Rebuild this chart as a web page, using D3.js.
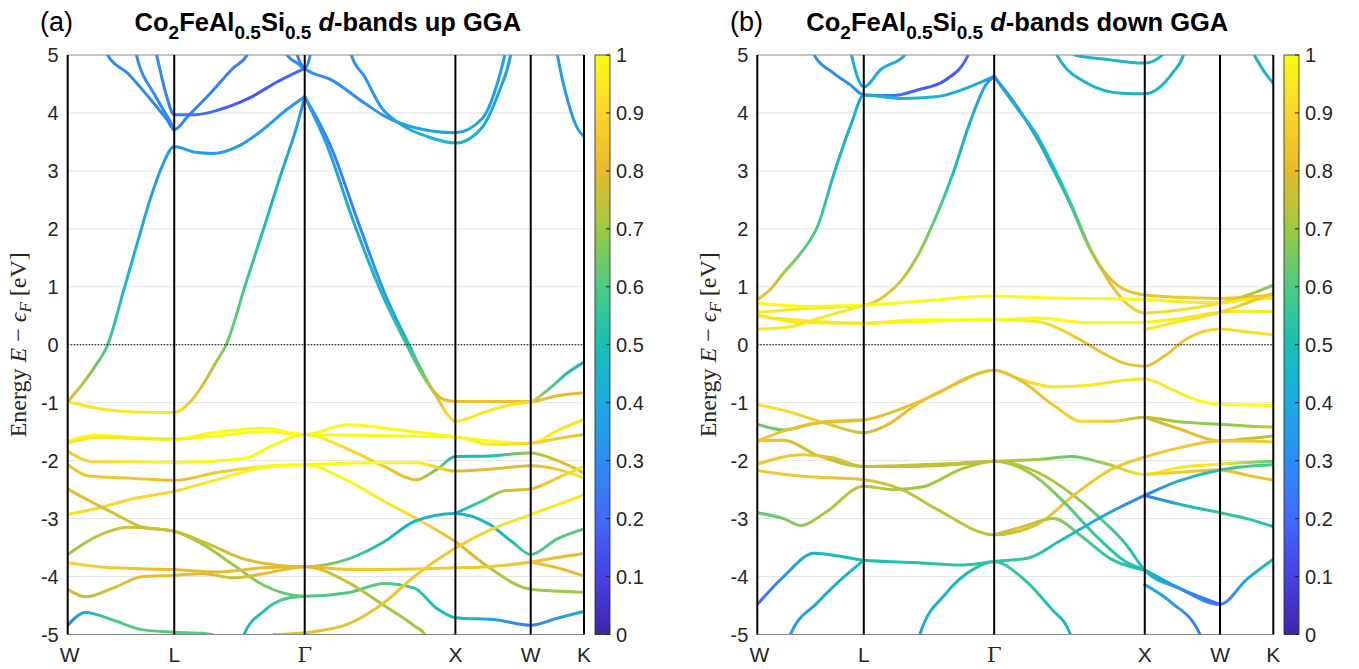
<!DOCTYPE html>
<html>
<head>
<meta charset="utf-8">
<script src="https://cdn.jsdelivr.net/npm/d3@7"></script>
<style>
  body { margin: 0; background: #fff; }
  text { font-family: "Liberation Sans", Arial, sans-serif; }
</style>
</head>
<body>
<div id="chart"></div>
<script>
// k-path positions (units of 2pi/a) and labels
const kTicks = [0, 0.7071, 1.5731, 2.5731, 3.0731, 3.4267];
const kLabels = ["W", "L", "Γ", "X", "W", "K"];
const energyTicks = [-5, -4, -3, -2, -1, 0, 1, 2, 3, 4, 5];
const weightTicks = [0, 0.1, 0.2, 0.3, 0.4, 0.5, 0.6, 0.7, 0.8, 0.9, 1];

// parula colormap samples
const parulaStops = [
  [0.2422, 0.1504, 0.6603], [0.2783, 0.2559, 0.8991], [0.2602, 0.4123, 0.9952],
  [0.1764, 0.5499, 0.9520], [0.1113, 0.6635, 0.8763], [0.0964, 0.7500, 0.7120],
  [0.2906, 0.7973, 0.5188], [0.6174, 0.7876, 0.2612], [0.9035, 0.7330, 0.1774],
  [0.9786, 0.8386, 0.1766], [0.9769, 0.9839, 0.0805]
];

// bands: [k, E - Ef (eV), d-weight]
const bandsUp = [
  [[0,-0.98,.95],[0.2,-1.10,.95],[0.45,-1.16,.95],[0.707,-1.17,.95],[0.80,-1.02,.85],[0.89,-0.72,.8],[0.98,-0.32,.72],[1.052,0,.65],[1.187,1.1,.58],[1.30,2.0,.5],[1.41,2.9,.42],[1.524,3.8,.36],[1.573,4.28,.33]],
  [[0,-0.98,.82],[0.085,-0.72,.75],[0.175,-0.40,.65],[0.265,0,.58],[0.378,1.0,.48],[0.467,1.8,.42],[0.546,2.5,.38],[0.625,3.07,.36],[0.707,3.42,.35],[0.85,3.32,.36],[0.96,3.30,.36],[1.15,3.45,.36],[1.30,3.72,.35],[1.45,4.05,.34],[1.573,4.28,.33]],
  [[0.24,5.3,.3],[0.265,5.0,.3],[0.40,4.68,.3],[0.535,4.28,.3],[0.66,3.88,.28],[0.707,3.71,.28],[0.80,3.95,.27],[0.95,4.35,.27],[1.10,4.78,.27],[1.19,5.0,.27],[1.22,5.3,.27]],
  [[0.43,5.3,.3],[0.456,5.0,.3],[0.58,4.3,.3],[0.68,3.85,.3],[0.707,3.71,.3]],
  [[0.56,5.3,.3],[0.59,5.0,.3],[0.65,4.35,.28],[0.707,3.97,.25],[0.85,3.97,.22],[1.0,4.05,.2],[1.2,4.25,.15],[1.4,4.55,.18],[1.573,4.77,.22]],
  [[1.44,5.3,.3],[1.456,5.0,.3],[1.53,4.85,.3],[1.573,4.77,.28],[1.61,5.0,.3],[1.63,5.3,.3]],
  [[1.51,5.3,.25],[1.524,5.0,.25],[1.573,4.77,.3],[1.75,4.57,.3],[1.97,4.17,.32],[2.1,3.95,.35],[2.3,3.75,.38],[2.573,3.66,.38],[2.75,3.9,.37],[2.85,4.5,.36],[2.9,5.0,.36],[2.92,5.3,.36]],
  [[1.86,5.3,.32],[1.883,5.0,.32],[1.97,4.63,.33],[2.08,4.1,.35],[2.2,3.82,.4],[2.4,3.58,.45],[2.573,3.48,.48],[2.75,3.75,.42],[2.86,4.35,.38],[2.94,5.0,.36],[2.96,5.3,.36]],
  [[3.23,5.3,.35],[3.25,5.0,.35],[3.32,4.2,.35],[3.38,3.75,.35],[3.427,3.59,.35]],
  [[1.573,4.28,.3],[1.75,3.4,.25],[1.93,2.1,.27],[2.11,0.85,.35],[2.265,0,.45],[2.35,-0.45,.6],[2.43,-0.8,.75],[2.50,-0.95,.8],[2.573,-0.98,.82],[2.82,-0.98,.82],[3.073,-0.98,.82],[3.25,-0.88,.8],[3.427,-0.83,.8]],
  [[1.573,4.28,.35],[1.72,3.45,.38],[1.90,2.1,.42],[2.09,0.85,.48],[2.25,0,.55],[2.35,-0.5,.65],[2.45,-0.9,.8],[2.52,-1.2,.9],[2.573,-1.32,.95],[2.78,-1.15,.95],[2.95,-1.03,.95],[3.073,-0.98,.9],[3.2,-0.75,.6],[3.31,-0.5,.5],[3.427,-0.30,.45]],
  [[0,-1.67,1],[0.175,-1.56,1],[0.45,-1.6,1],[0.707,-1.63,1],[0.96,-1.52,1],[1.30,-1.44,1],[1.573,-1.55,1],[1.86,-1.38,1],[2.2,-1.47,1],[2.573,-1.59,1],[2.8,-1.66,1],[3.073,-1.70,1],[3.25,-1.48,.95],[3.427,-1.29,.95]],
  [[0,-1.69,.95],[0.2,-1.6,.95],[0.45,-1.62,.95],[0.707,-1.63,.95],[0.96,-1.58,1],[1.3,-1.5,1],[1.573,-1.55,1],[1.9,-1.56,1],[2.3,-1.58,1],[2.573,-1.59,1],[2.8,-1.72,.95],[3.073,-1.70,.9],[3.25,-1.62,.85],[3.427,-1.55,.82]],
  [[0,-1.84,.85],[0.175,-2.02,.9],[0.40,-2.02,.95],[0.707,-2.03,1],[0.96,-2.01,1],[1.19,-1.95,1],[1.35,-1.75,1],[1.573,-1.55,1],[1.86,-1.8,.9],[2.1,-2.1,.85],[2.31,-2.33,.8],[2.45,-2.15,.65],[2.573,-1.93,.45],[2.8,-1.92,.5],[3.073,-1.87,.7],[3.25,-2.0,.8],[3.427,-2.21,.8]],
  [[0,-2.07,.85],[0.15,-2.27,.85],[0.4,-2.3,.85],[0.707,-2.34,.8],[1.0,-2.2,.85],[1.3,-2.1,.95],[1.573,-2.07,1],[1.9,-2.04,1],[2.3,-2.03,1],[2.573,-2.18,.8],[2.8,-2.15,.8],[3.073,-2.09,.8],[3.25,-2.15,.85],[3.427,-2.30,.95]],
  [[0,-2.93,.95],[0.2,-2.82,.9],[0.45,-2.65,.9],[0.707,-2.53,.9],[0.96,-2.35,.95],[1.3,-2.12,1],[1.573,-2.07,1],[1.86,-2.35,1],[2.1,-2.7,.95],[2.35,-3.05,.9],[2.573,-3.4,.8],[2.8,-3.85,.75],[3.073,-4.22,.7],[3.427,-4.27,.7]],
  [[0,-2.49,.8],[0.15,-2.70,.8],[0.3,-2.9,.78],[0.5,-3.15,.75],[0.707,-3.22,.75],[0.9,-3.45,.72],[1.1,-3.8,.7],[1.3,-4.15,.65],[1.573,-4.34,.6],[1.86,-4.28,.6],[2.1,-4.12,.62],[2.3,-4.2,.55],[2.45,-4.55,.5],[2.573,-4.71,.48],[2.85,-4.75,.35],[3.073,-4.84,.25],[3.25,-4.72,.35],[3.427,-4.60,.45]],
  [[0,-3.62,.7],[0.2,-3.30,.75],[0.4,-3.15,.78],[0.707,-3.22,.75],[0.9,-3.4,.75],[1.2,-3.72,.78],[1.573,-3.83,.8],[1.86,-3.7,.6],[2.1,-3.4,.5],[2.3,-3.05,.45],[2.573,-2.91,.45],[2.8,-3.1,.45],[2.95,-3.4,.5],[3.073,-3.62,.6],[3.25,-3.35,.6],[3.427,-3.18,.62]],
  [[2.573,-2.91,.45],[2.75,-2.7,.6],[2.9,-2.52,.75],[3.073,-2.49,.8],[3.25,-2.3,.85],[3.427,-2.10,.95]],
  [[0,-3.76,.9],[0.3,-3.85,.85],[0.707,-3.88,.8],[1.0,-3.92,.8],[1.3,-3.85,.8],[1.573,-3.83,.8],[1.9,-3.88,.85],[2.3,-3.87,.85],[2.573,-3.85,.85],[2.8,-3.83,.85],[3.073,-3.75,.85],[3.25,-3.67,.8],[3.427,-3.60,.8]],
  [[0,-4.22,.8],[0.12,-4.35,.72],[0.3,-4.2,.78],[0.5,-4.0,.8],[0.707,-3.98,.8],[0.9,-3.95,.8],[1.1,-4.02,.75],[1.3,-3.95,.8],[1.573,-3.83,.8],[1.86,-4.1,.75],[2.1,-4.5,.7],[2.3,-4.85,.7],[2.37,-5.0,.7],[2.42,-5.3,.7]],
  [[0,-4.84,.25],[0.12,-4.62,.45],[0.3,-4.75,.6],[0.5,-4.92,.62],[0.707,-4.96,.62],[0.9,-4.98,.62],[0.98,-5.02,.62],[1.05,-5.3,.6]],
  [[1.14,-5.3,.45],[1.17,-5.0,.45],[1.3,-4.6,.52],[1.45,-4.38,.6],[1.573,-4.34,.62]],
  [[1.37,-5.0,.8],[1.573,-4.97,.82],[1.86,-4.82,.82],[2.1,-4.45,.82],[2.3,-4.0,.85],[2.573,-3.51,.85],[2.8,-3.2,.9],[3.073,-2.93,.95],[3.427,-2.59,.95]],
  [[3.073,-3.75,.85],[3.25,-3.85,.8],[3.427,-3.99,.8]]
];

const bandsDown = [
  [[0.34,5.3,.3],[0.378,5.0,.3],[0.50,4.7,.3],[0.62,4.48,.3],[0.707,4.31,.28],[0.9,4.3,.22],[1.07,4.4,.18],[1.25,4.57,.15],[1.40,5.0,.2],[1.43,5.3,.2]],
  [[0.6,5.3,.4],[0.625,5.0,.4],[0.707,4.45,.42],[0.82,4.75,.42],[0.98,5.0,.4],[1.0,5.3,.4]],
  [[0,0.78,.85],[0.085,0.95,.8],[0.175,1.24,.72],[0.288,1.58,.62],[0.40,2.04,.58],[0.51,2.96,.48],[0.625,3.82,.42],[0.707,4.31,.4],[0.96,4.25,.45],[1.19,4.28,.45],[1.41,4.45,.42],[1.573,4.63,.38]],
  [[0,0.56,.95],[0.3,0.62,.95],[0.707,0.68,.9],[0.85,0.85,.82],[0.96,1.12,.78],[1.074,1.58,.7],[1.187,2.21,.62],[1.30,2.96,.5],[1.41,3.82,.42],[1.524,4.51,.35],[1.573,4.63,.33]],
  [[1.573,4.63,.3],[1.70,4.2,.25],[1.86,3.55,.3],[1.97,3.0,.42],[2.085,2.39,.55],[2.2,1.70,.68],[2.31,1.24,.78],[2.42,0.98,.82],[2.573,0.86,.82],[2.8,0.82,.85],[3.073,0.80,.85],[3.25,0.82,.85],[3.427,0.86,.85]],
  [[1.573,4.63,.35],[1.72,4.1,.45],[1.86,3.6,.48],[1.97,3.05,.5],[2.085,2.42,.55],[2.2,1.72,.68],[2.31,1.2,.78],[2.42,0.8,.85],[2.573,0.55,.9],[2.8,0.6,.92],[3.073,0.72,.92],[3.25,0.85,.75],[3.427,1.03,.65]],
  [[1.95,5.3,.45],[1.99,5.0,.45],[2.2,4.5,.45],[2.42,4.34,.45],[2.573,4.33,.45],[2.76,4.7,.45],[2.83,5.0,.45],[2.86,5.3,.45]],
  [[2.05,5.3,.45],[2.11,5.0,.45],[2.3,4.93,.45],[2.573,4.86,.45],[2.69,5.0,.45],[2.72,5.3,.45]],
  [[3.24,5.3,.45],[3.30,5.0,.45],[3.37,4.7,.45],[3.427,4.51,.45]],
  [[0,0.72,1],[0.35,0.66,1],[0.707,0.68,1],[1.07,0.75,1],[1.573,0.84,1],[1.9,0.81,1],[2.573,0.78,1],[2.8,0.74,.95],[3.073,0.72,.95],[3.25,0.78,.95],[3.427,0.80,.95]],
  [[0,0.27,.95],[0.2,0.3,.95],[0.4,0.45,.95],[0.707,0.68,.95]],
  [[0,0.49,.95],[0.3,0.42,.95],[0.707,0.37,.95],[1.07,0.43,1],[1.573,0.43,1],[1.86,0.46,1],[2.2,0.38,1],[2.573,0.39,1],[2.8,0.45,.95],[3.073,0.56,.95],[3.25,0.58,.95],[3.427,0.57,.95]],
  [[0,0.52,.95],[0.3,0.38,.95],[0.707,0.37,.95],[1.07,0.40,1],[1.573,0.43,1],[1.86,0.40,.95],[2.1,0.15,.85],[2.3,-0.15,.82],[2.45,-0.33,.82],[2.573,-0.37,.82],[2.7,-0.2,.82],[2.85,0.1,.85],[3.073,0.27,.9],[3.25,0.22,.92],[3.427,0.17,.92]],
  [[2.573,0.26,.95],[2.8,0.4,.95],[3.073,0.56,.9],[3.25,0.72,.85],[3.427,0.89,.85]],
  [[0,-1.03,.95],[0.2,-1.15,.9],[0.45,-1.35,.85],[0.707,-1.52,.75],[0.85,-1.40,.8],[1.074,-1.0,.82],[1.3,-0.7,.85],[1.573,-0.44,.85],[1.75,-0.6,.9],[1.97,-0.73,.95],[2.2,-0.70,.95],[2.42,-0.62,.95],[2.573,-0.59,.95],[2.76,-0.78,.95],[2.95,-0.98,1],[3.073,-1.03,1],[3.25,-1.04,1],[3.427,-1.05,1]],
  [[0,-1.37,.62],[0.175,-1.47,.65],[0.40,-1.35,.8],[0.707,-1.30,.82],[0.96,-1.1,.82],[1.19,-0.85,.82],[1.41,-0.55,.82],[1.573,-0.44,.82],[1.75,-0.62,.82],[1.97,-1.05,.85],[2.15,-1.32,.9],[2.35,-1.32,.85],[2.573,-1.25,.75],[2.8,-1.33,.7],[3.073,-1.37,.68],[3.25,-1.40,.7],[3.427,-1.42,.8]],
  [[2.573,-1.25,.75],[2.8,-1.45,.8],[3.073,-1.66,.82],[3.25,-1.62,.75],[3.427,-1.57,.72]],
  [[0,-1.66,.85],[0.2,-1.47,.82],[0.45,-1.33,.82],[0.707,-1.30,.82]],
  [[0,-1.66,.85],[0.175,-1.65,.8],[0.40,-1.91,.75],[0.707,-2.10,.72],[1.0,-2.10,.75],[1.3,-2.07,.75],[1.573,-2.01,.75],[1.86,-1.98,.7],[2.085,-1.93,.62],[2.31,-2.05,.7],[2.573,-2.24,.95],[2.8,-2.12,.95],[3.073,-2.06,.95],[3.427,-2.01,.62]],
  [[2.573,-2.24,.9],[2.8,-2.2,.85],[3.073,-2.16,.82],[3.25,-2.25,.82],[3.427,-2.34,.82]],
  [[0,-2.06,.85],[0.3,-1.90,.85],[0.5,-1.95,.82],[0.707,-2.10,.75],[1.0,-2.08,.75],[1.3,-2.05,.75],[1.573,-2.01,.75],[1.86,-2.2,.72],[2.1,-2.6,.7],[2.3,-3.05,.6],[2.45,-3.45,.55],[2.573,-3.89,.45],[2.8,-4.2,.35],[3.073,-4.48,.25],[3.25,-4.05,.4],[3.427,-3.70,.5]],
  [[0,-2.17,.85],[0.3,-2.27,.85],[0.707,-2.33,.82],[0.96,-2.5,.75],[1.2,-2.85,.75],[1.573,-3.28,.75],[1.86,-3.1,.8],[2.1,-2.6,.85],[2.35,-2.15,.85],[2.573,-1.94,.85],[2.8,-1.78,.85],[3.073,-1.66,.85],[3.25,-1.66,.85],[3.427,-1.68,.85]],
  [[0,-2.90,.62],[0.175,-3.0,.65],[0.29,-3.12,.68],[0.45,-2.9,.72],[0.707,-2.44,.75],[0.9,-2.5,.72],[1.1,-2.45,.7],[1.35,-2.15,.72],[1.573,-2.01,.75],[1.86,-2.3,.7],[2.05,-2.75,.62],[2.25,-3.3,.55],[2.45,-3.75,.52],[2.573,-3.89,.5],[2.8,-4.2,.3],[3.073,-4.48,.2]],
  [[1.573,-3.28,.75],[1.75,-3.15,.78],[1.97,-3.0,.7],[2.15,-3.3,.6],[2.35,-3.7,.55],[2.573,-3.89,.5]],
  [[0,-4.48,.2],[0.175,-4.0,.35],[0.378,-3.6,.45],[0.55,-3.65,.48],[0.707,-3.72,.5],[1.07,-3.76,.52],[1.35,-3.8,.55],[1.573,-3.74,.55],[1.8,-3.68,.55],[2.0,-3.4,.5],[2.3,-2.95,.4],[2.573,-2.60,.25],[2.8,-2.35,.45],[3.073,-2.16,.55],[3.25,-2.1,.58],[3.427,-2.07,.6]],
  [[2.573,-2.60,.25],[2.8,-2.75,.45],[3.073,-2.90,.55],[3.25,-3.0,.55],[3.427,-3.14,.5]],
  [[0.2,-5.3,.35],[0.22,-5.0,.35],[0.4,-4.45,.4],[0.6,-3.95,.45],[0.707,-3.72,.5]],
  [[1.05,-5.3,.4],[1.08,-5.0,.4],[1.25,-4.3,.45],[1.45,-3.85,.52],[1.573,-3.74,.55],[1.75,-4.0,.55],[1.95,-4.55,.5],[2.08,-5.0,.45],[2.1,-5.3,.45]],
  [[2.573,-4.14,.45],[2.75,-4.45,.35],[2.94,-5.0,.25],[2.96,-5.3,.25]]
];

const W = 1359, H = 669;
const svg = d3.select("#chart").append("svg")
  .attr("width", W)
  .attr("height", H);

const parula = d3.scaleLinear()
  .domain(parulaStops.map((d, i) => i / (parulaStops.length - 1)))
  .range(parulaStops.map(c => d3.rgb(c[0] * 255, c[1] * 255, c[2] * 255)))
  .interpolate(d3.interpolateRgb)
  .clamp(true);

const panels = [
  { id: "a", tag: "(a)", tagX: 40, spin: "up", x0: 67.7, x1: 584, cbX: 595, ylabX: 26, bands: bandsUp },
  { id: "b", tag: "(b)", tagX: 730, spin: "down", x0: 757.3, x1: 1273.3, cbX: 1284, ylabX: 716, bands: bandsDown }
];

const yTop = 55, yBot = 634.5;
const defs = svg.append("defs");

// colorbar gradient (shared)
const cbGrad = defs.append("linearGradient")
  .attr("id", "cbgrad")
  .attr("x1", 0).attr("y1", 1).attr("x2", 0).attr("y2", 0);
d3.range(0, 1.0001, 0.05).forEach(v => {
  cbGrad.append("stop").attr("offset", v).attr("stop-color", parula(v));
});

panels.forEach(p => {
  const x = d3.scaleLinear().domain([kTicks[0], kTicks[kTicks.length - 1]]).range([p.x0, p.x1]);
  const y = d3.scaleLinear().domain([-5, 5]).range([yBot, yTop]);
  const g = svg.append("g");

  defs.append("clipPath").attr("id", "clip-" + p.id)
    .append("rect")
    .attr("x", p.x0).attr("y", yTop)
    .attr("width", p.x1 - p.x0).attr("height", yBot - yTop);

  // horizontal grid
  g.selectAll(".grid")
    .data(energyTicks.filter(d => d > -5 && d < 5))
    .join("line")
    .attr("x1", p.x0).attr("x2", p.x1)
    .attr("y1", d => y(d)).attr("y2", d => y(d))
    .attr("stroke", "#e3e3e3")
    .attr("stroke-width", 1);

  // bands, colored by d-weight with a horizontal gradient per band
  const line = d3.line()
    .x(d => x(d[0]))
    .y(d => y(d[1]))
    .curve(d3.curveMonotoneX);

  const bandG = g.append("g").attr("clip-path", `url(#clip-${p.id})`);
  p.bands.forEach((band, i) => {
    const gx1 = x(band[0][0]), gx2 = x(band[band.length - 1][0]);
    const grad = defs.append("linearGradient")
      .attr("id", `bg-${p.id}-${i}`)
      .attr("gradientUnits", "userSpaceOnUse")
      .attr("x1", gx1).attr("x2", gx2)
      .attr("y1", 0).attr("y2", 0);
    band.forEach(d => {
      grad.append("stop")
        .attr("offset", (x(d[0]) - gx1) / (gx2 - gx1))
        .attr("stop-color", parula(d[2]));
    });
    bandG.append("path")
      .datum(band)
      .attr("d", line)
      .attr("fill", "none")
      .attr("stroke", `url(#bg-${p.id}-${i})`)
      .attr("stroke-width", 3)
      .attr("stroke-linecap", "round")
      .attr("stroke-linejoin", "round");
  });

  // Fermi level
  g.append("line")
    .attr("x1", p.x0).attr("x2", p.x1)
    .attr("y1", y(0)).attr("y2", y(0))
    .attr("stroke", "#000")
    .attr("stroke-width", 1.2)
    .attr("stroke-dasharray", "1.5,1.5");

  // frame: top / bottom
  g.selectAll(".hframe")
    .data([yTop, yBot])
    .join("line")
    .attr("x1", p.x0).attr("x2", p.x1)
    .attr("y1", d => d).attr("y2", d => d)
    .attr("stroke", "#8a8a8a")
    .attr("stroke-width", 1);

  // high-symmetry lines
  g.selectAll(".kline")
    .data(kTicks)
    .join("line")
    .attr("x1", d => x(d)).attr("x2", d => x(d))
    .attr("y1", yTop).attr("y2", yBot)
    .attr("stroke", "#000")
    .attr("stroke-width", 2);

  // y tick labels
  g.selectAll(".ytl")
    .data(energyTicks)
    .join("text")
    .attr("x", p.x0 - 9)
    .attr("y", d => y(d))
    .attr("dy", "0.36em")
    .attr("text-anchor", "end")
    .style("font-size", "20px")
    .attr("fill", "#262626")
    .text(d => d);

  // x tick labels
  g.selectAll(".xtl")
    .data(kTicks)
    .join("text")
    .attr("x", (d, i) => x(d) + (i === 0 ? 2 : 0))
    .attr("y", 662)
    .attr("text-anchor", "middle")
    .style("font-size", "21px")
    .style("font-family", (d, i) => kLabels[i] === "Γ" ? "'DejaVu Serif', serif" : null)
    .attr("fill", "#262626")
    .text((d, i) => kLabels[i]);

  // y axis label
  const yl = g.append("text")
    .attr("transform", `translate(${p.ylabX},${(yTop + yBot) / 2}) rotate(-90)`)
    .attr("text-anchor", "middle")
    .style("font-family", "'Liberation Serif', 'DejaVu Serif', serif")
    .style("font-size", "24px")
    .attr("fill", "#262626");
  yl.append("tspan").text("Energy ");
  yl.append("tspan").style("font-style", "italic").text("E");
  yl.append("tspan").text(" − ");
  yl.append("tspan").style("font-style", "italic").text("ϵ");
  yl.append("tspan").style("font-style", "italic").style("font-size", "17px").attr("dy", 5).text("F");
  yl.append("tspan").attr("dy", -5).text(" [eV]");

  // panel tag and title (title centred over the axes)
  g.append("text")
    .attr("x", p.tagX).attr("y", 31)
    .style("font-size", "27px")
    .text(p.tag);
  const t = g.append("text")
    .attr("x", (p.x0 + p.x1) / 2 + 2).attr("y", 31)
    .attr("text-anchor", "middle")
    .style("font-size", "25.5px")
    .style("font-weight", "bold");
  t.append("tspan").text("Co");
  t.append("tspan").attr("dy", 8).style("font-size", "19px").text("2");
  t.append("tspan").attr("dy", -8).text("FeAl");
  t.append("tspan").attr("dy", 8).style("font-size", "19px").text("0.5");
  t.append("tspan").attr("dy", -8).text("Si");
  t.append("tspan").attr("dy", 8).style("font-size", "19px").text("0.5");
  t.append("tspan").attr("dy", -8).text(" ");
  t.append("tspan").style("font-style", "italic").text("d");
  t.append("tspan").text(`-bands ${p.spin} GGA`);

  // colorbar
  const cbW = 15;
  const cy = d3.scaleLinear().domain([0, 1]).range([yBot, yTop]);
  g.append("rect")
    .attr("x", p.cbX).attr("y", yTop)
    .attr("width", cbW).attr("height", yBot - yTop)
    .attr("fill", "url(#cbgrad)")
    .attr("stroke", "#262626")
    .attr("stroke-width", 0.8);
  g.selectAll(".cbt")
    .data(weightTicks)
    .join("line")
    .attr("x1", p.cbX + cbW - 4).attr("x2", p.cbX + cbW)
    .attr("y1", d => cy(d)).attr("y2", d => cy(d))
    .attr("stroke", "#262626");
  g.selectAll(".cbl")
    .data(weightTicks)
    .join("text")
    .attr("x", p.cbX + cbW + 6)
    .attr("y", d => cy(d))
    .attr("dy", "0.36em")
    .style("font-size", "20px")
    .attr("fill", "#262626")
    .text(d => d3.format("~g")(d));
});
</script>
</body>
</html>
